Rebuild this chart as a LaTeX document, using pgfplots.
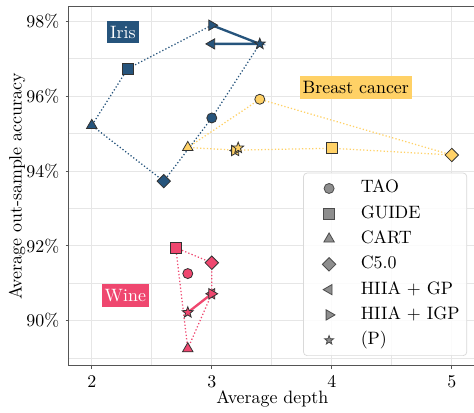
\documentclass[border=0pt]{standalone}
\usepackage{pgfplots}
\pgfplotsset{compat=1.18}
\usetikzlibrary{plotmarks}
\definecolor{iris}{HTML}{26547C}
\definecolor{breast}{HTML}{FFD166}
\definecolor{wine}{HTML}{EF476F}
\definecolor{mkgray}{HTML}{7A7A7A}
\definecolor{spine}{HTML}{555555}
\definecolor{gridc}{HTML}{E6E6E6}

\pgfdeclareplotmark{fstar}{%
  \pgfpathmoveto{\pgfpointpolar{90}{\pgfplotmarksize}}%
  \pgfpathlineto{\pgfpointpolar{126}{0.42\pgfplotmarksize}}%
  \pgfpathlineto{\pgfpointpolar{162}{\pgfplotmarksize}}%
  \pgfpathlineto{\pgfpointpolar{198}{0.42\pgfplotmarksize}}%
  \pgfpathlineto{\pgfpointpolar{234}{\pgfplotmarksize}}%
  \pgfpathlineto{\pgfpointpolar{270}{0.42\pgfplotmarksize}}%
  \pgfpathlineto{\pgfpointpolar{306}{\pgfplotmarksize}}%
  \pgfpathlineto{\pgfpointpolar{342}{0.42\pgfplotmarksize}}%
  \pgfpathlineto{\pgfpointpolar{18}{\pgfplotmarksize}}%
  \pgfpathlineto{\pgfpointpolar{54}{0.42\pgfplotmarksize}}%
  \pgfpathclose
  \pgfusepathqfillstroke
}

\tikzset{lab/.style={fill=#1, inner xsep=1.7pt, inner ysep=2.8pt, text height=6.94pt, text depth=0pt}}

\pgfplotsset{
  pt/.style={only marks, draw=black!80, fill=#1, line width=0.45pt, forget plot},
  shTAO/.style={mark=*, mark size=2.8pt},
  shGUIDE/.style={mark=square*, mark size=3pt},
  shCART/.style={mark=triangle*, mark size=3.4pt},
  shC50/.style={mark=square*, mark size=2.65pt, mark options={rotate=45}},
  shGP/.style={mark=triangle*, mark size=3.3pt, mark options={rotate=90}},
  shIGP/.style={mark=triangle*, mark size=3.3pt, mark options={rotate=-90}},
  shP/.style={mark=fstar, mark size=3.2pt},
  lg/.style={draw=black!70, fill=mkgray, line width=0.45pt,
    legend image code/.code={\path[draw=none, fill=none] (-5pt,-1pt) rectangle (23pt,1pt); \draw[##1, only marks] plot coordinates {(7.3pt,0pt)};}},
  hull/.style={#1, dash pattern=on 0.7pt off 1.2pt, line width=0.7pt, forget plot},
  link/.style={#1, line width=1.3pt, forget plot},
}

\begin{document}
\begin{tikzpicture}
\begin{axis}[
  scale only axis,
  width=227.4pt, height=200.6pt,
  xmin=1.808, xmax=5.2, ymin=88.79, ymax=98.39,
  xtick={2,3,4,5}, minor xtick={2.5,3.5,4.5},
  ytick={90,92,94,96,98}, minor ytick={89,91,93,95,97},
  yticklabel={$\pgfmathprintnumber{\tick}\%$},
  grid=both,
  major grid style={gridc, line width=0.6pt},
  minor grid style={gridc, line width=0.6pt},
  axis line style={spine, line width=0.6pt},
  tick style={spine, line width=0.6pt},
  major tick length=1.8pt, minor tick length=0pt,
  tick align=outside, xtick pos=lower, ytick pos=left,
  xlabel={Average depth},
  ylabel={Average out-sample accuracy},
  xlabel style={at={(axis description cs:0.5,-0.0932)}, anchor=center},
  ylabel style={at={(axis description cs:-0.1271,0.5)}, anchor=center},
  legend cell align=left,
  legend style={at={(axis description cs:0.9787,0.0278)}, anchor=south east,
    draw=gray!30, rounded corners=2pt, fill=white, fill opacity=0.85, text opacity=1,
    inner xsep=2pt, inner ysep=4.1pt, row sep=5.13pt,
    nodes={inner xsep=2pt, inner ysep=0pt, text height=7pt, text depth=2pt}},
]
% ---------- hull / link lines ----------
\addplot[hull=iris] coordinates {(3.0,97.9) (2.3,96.74) (2.0,95.22) (2.6,93.73) (3.0,95.42) (3.4,97.4)};
\addplot[link=iris] coordinates {(3.0,97.9) (3.4,97.4) (3.0,97.4)};
\addplot[hull=breast] coordinates {(2.8,94.63) (3.4,95.92) (5.0,94.43) (4.0,94.61) (3.2,94.56) (2.8,94.63)};
\addplot[link=breast] coordinates {(3.19,94.55) (3.22,94.62) (3.2,94.55)};
\addplot[hull=wine] coordinates {(2.7,91.95) (3.0,91.55) (3.0,90.72) (2.8,89.25) (2.7,91.95)};
\addplot[link=wine] coordinates {(2.8,90.22) (3.0,90.72)};
% ---------- Iris ----------
\addplot[pt=iris, shTAO]   coordinates {(3.0,95.42)};
\addplot[pt=iris, shGUIDE] coordinates {(2.3,96.74)};
\addplot[pt=iris, shCART]  coordinates {(2.0,95.22)};
\addplot[pt=iris, shC50]   coordinates {(2.6,93.73)};
\addplot[pt=iris, shGP]    coordinates {(3.0,97.4)};
\addplot[pt=iris, shIGP]   coordinates {(3.0,97.9)};
\addplot[pt=iris, shP]     coordinates {(3.4,97.4)};
% ---------- Breast cancer ----------
\addplot[pt=breast, shTAO]   coordinates {(3.4,95.92)};
\addplot[pt=breast, shGUIDE] coordinates {(4.0,94.61)};
\addplot[pt=breast, shCART]  coordinates {(2.8,94.63)};
\addplot[pt=breast, shC50]   coordinates {(5.0,94.43)};
\addplot[pt=breast, shGP]    coordinates {(3.2,94.55)};
\addplot[pt=breast, shIGP]   coordinates {(3.19,94.55)};
\addplot[pt=breast, shP]     coordinates {(3.22,94.62)};
% ---------- Wine ----------
\addplot[pt=wine, shTAO]   coordinates {(2.8,91.26)};
\addplot[pt=wine, shGUIDE] coordinates {(2.7,91.95)};
\addplot[pt=wine, shCART]  coordinates {(2.8,89.25)};
\addplot[pt=wine, shC50]   coordinates {(3.0,91.55)};
\addplot[pt=wine, shGP]    coordinates {(3.0,90.72)};
\addplot[pt=wine, shIGP]   coordinates {(3.0,90.72)};
\addplot[pt=wine, shP]     coordinates {(2.8,90.22)};
% ---------- labels ----------
\node[lab=iris, text=white] at (axis cs:2.26,97.72) {Iris};
\node[lab=breast, text=black] at (axis cs:4.2,96.24) {Breast cancer};
\node[lab=wine, text=white] at (axis cs:2.28,90.67) {Wine};
% ---------- legend ----------
\addlegendimage{lg, shTAO}   \addlegendentry{TAO}
\addlegendimage{lg, shGUIDE} \addlegendentry{GUIDE}
\addlegendimage{lg, shCART}  \addlegendentry{CART}
\addlegendimage{lg, shC50}   \addlegendentry{C5.0}
\addlegendimage{lg, shGP}    \addlegendentry{HIIA + GP}
\addlegendimage{lg, shIGP}   \addlegendentry{HIIA + IGP}
\addlegendimage{lg, shP, mark size=2.6pt} \addlegendentry{(P)}
\end{axis}
\pgfresetboundingbox
\path[use as bounding box] ([shift={(-38.4pt,-26.26pt)}]current axis.south west) rectangle ++(264.8pt,230.7pt);
\end{tikzpicture}
\end{document}
